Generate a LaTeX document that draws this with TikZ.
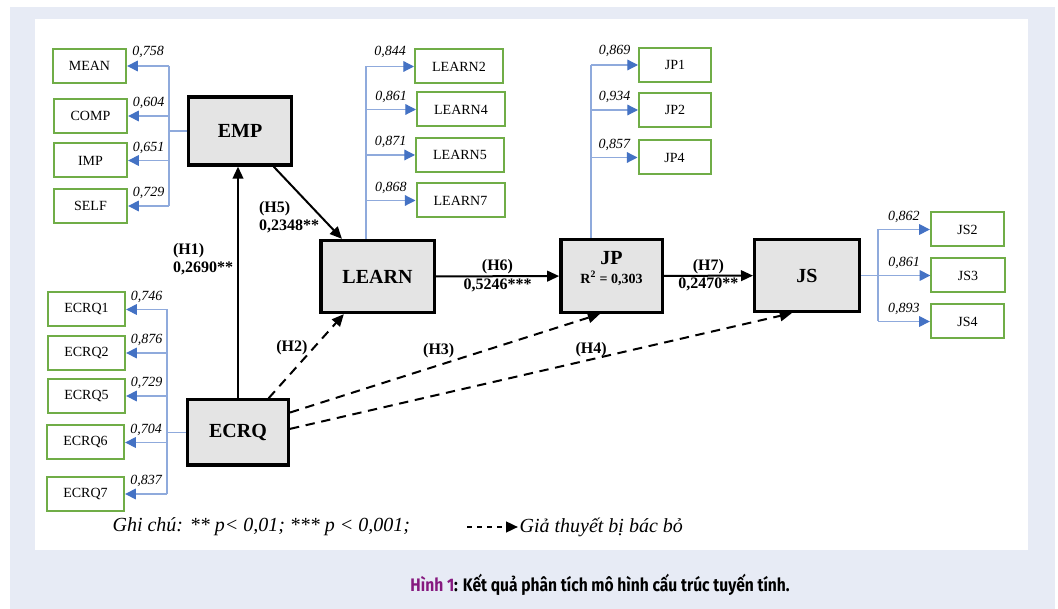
\documentclass[tikz,border=0pt]{standalone}
\usepackage{fontspec}
\setmainfont{Liberation Serif}
\newfontfamily\capfont[FakeStretch=0.86]{Fira Sans}
\usepackage{tikz}
\usetikzlibrary{calc}
\usetikzlibrary{positioning}
\usetikzlibrary{arrows.meta}

\definecolor{panel}{HTML}{E7EBF5}
\definecolor{latgray}{HTML}{E4E4E4}
\definecolor{itemgreen}{HTML}{70AD47}
\definecolor{bluel}{HTML}{8FAADC}
\definecolor{blued}{HTML}{4472C4}
\definecolor{capurple}{HTML}{86197F}

\begin{document}
\begin{tikzpicture}[x=0.75pt, y=-0.75pt,
	latent/.style={draw, line width=2.5pt, fill=latgray, inner sep=1pt, font=\fontsize{15}{17}\selectfont\bfseries},
	item/.style={draw=itemgreen, line width=1.5pt, minimum height=25.5pt, inner sep=0pt, font=\fontsize{10.5}{12}\selectfont},
	trunk/.style={draw=bluel, line width=0.9pt},
	load/.style={trunk, -{Triangle[length=8pt,width=8pt,color=blued]}},
	lab/.style={font=\fontsize{10.5}{12}\selectfont\itshape, inner sep=1pt},
	hyp/.style={line width=1.5pt, -{Triangle[length=9pt,width=8pt]}},
	rej/.style={hyp, dash pattern=on 7pt off 5pt},
	coef/.style={font=\fontsize{12}{14}\selectfont\bfseries, inner sep=1pt, align=left},
	notefont/.style={font=\fontsize{15}{17}\selectfont\itshape}]
				
				% page and panel
				\useasboundingbox (0,0) rectangle (1058,609);
				\fill[panel] (10,7) rectangle (1055,609);
				\fill[white] (35,19) rectangle (1028,550);
				
				\node[latent, minimum width=77pt, minimum height=51pt] (EMP) at (240,131) {EMP};
				\node[latent, minimum width=85pt, minimum height=54pt] (LEARN) at (377.5,276.5) {LEARN};
				\node[latent, minimum width=76pt, minimum height=54.5pt, align=center] (JP) at (611.5,276) {JP\\[-3pt] {\fontsize{10.5}{12}\selectfont R\textsuperscript{2} = 0,303}\\[-4pt]\mbox{}};
				\node[latent, minimum width=78.5pt, minimum height=54pt] (JS) at (807,275.5) {JS};
				\node[latent, minimum width=75.5pt, minimum height=49pt] (ECRQ) at (238,432.5) {ECRQ};
				
				\node[item, minimum width=55pt] (MEAN) at (89.5,66) {MEAN};
				\node[item, minimum width=55pt] (COMP) at (90.5,116) {COMP};
				\node[item, minimum width=55pt] (IMP) at (90.5,160.5) {IMP};
				\node[item, minimum width=55pt] (SELF) at (90.5,206) {SELF};
				
				\node[item, minimum width=66pt] (LEARN2) at (459,66.5) {LEARN2};
				\node[item, minimum width=66pt] (LEARN4) at (461,109.5) {LEARN4};
				\node[item, minimum width=66pt] (LEARN5) at (460,155) {LEARN5};
				\node[item, minimum width=66pt] (LEARN7) at (460.5,200.5) {LEARN7};
				
				\node[item, minimum width=54pt] (JP1) at (675,65) {JP1};
				\node[item, minimum width=54pt] (JP2) at (675,110) {JP2};
				\node[item, minimum width=54pt] (JP4) at (674.5,157.5) {JP4};
				
				\node[item, minimum width=55pt] (JS2) at (967.5,229.5) {JS2};
				\node[item, minimum width=55pt] (JS3) at (968,275.5) {JS3};
				\node[item, minimum width=55pt] (JS4) at (967.5,321.5) {JS4};
				
				\node[item, minimum width=58pt] (ECRQ1) at (86.5,309.5) {ECRQ1};
				\node[item, minimum width=58pt] (ECRQ2) at (86.5,353) {ECRQ2};
				\node[item, minimum width=58pt] (ECRQ5) at (86.5,396) {ECRQ5};
				\node[item, minimum width=58pt] (ECRQ6) at (85.5,442.5) {ECRQ6};
				\node[item, minimum width=58pt] (ECRQ7) at (85.5,494) {ECRQ7};
				
				\coordinate (tE) at (169,0);
				\coordinate (tL) at (366,0);
				\coordinate (tP) at (591,0);
				\coordinate (tS) at (878,0);
				\coordinate (tC) at (167,0);
				
				% measurement part
				\draw[trunk] (EMP.west) -- (EMP.west -| tE);
				\draw[trunk] (tE |- MEAN) -- (tE |- SELF);
				\draw[load] (tE |- MEAN) -- (MEAN.east) node[midway,above=5pt,lab] {0,758};
				\draw[load] (tE |- COMP) -- (COMP.east) node[midway,above=4pt,lab] {0,604};
				\draw[load] (tE |- IMP) -- (IMP.east) node[midway,above=4pt,lab] {0,651};
				\draw[load] (tE |- SELF) -- (SELF.east) node[midway,above=4pt,lab] {0,729};
				
				\draw[trunk] (tL |- LEARN.north) -- (tL |- LEARN2);
				\draw[load] (tL |- LEARN2) -- (LEARN2.west) node[midway,above=5pt,lab] {0,844};
				\draw[load] (tL |- LEARN4) -- (LEARN4.west) node[midway,above=4pt,lab] {0,861};
				\draw[load] (tL |- LEARN5) -- (LEARN5.west) node[midway,above=4pt,lab] {0,871};
				\draw[load] (tL |- LEARN7) -- (LEARN7.west) node[midway,above=4pt,lab] {0,868};
				
				\draw[trunk] (tP |- JP.north) -- (tP |- JP1);
				\draw[load] (tP |- JP1) -- (JP1.west) node[midway,above=5pt,lab] {0,869};
				\draw[load] (tP |- JP2) -- (JP2.west) node[midway,above=4pt,lab] {0,934};
				\draw[load] (tP |- JP4) -- (JP4.west) node[midway,above=4pt,lab] {0,857};
				
				\draw[trunk] (JS.east) -- (tS |- JS3);
				\draw[trunk] (tS |- JS2) -- (tS |- JS4);
				\draw[load] (tS |- JS2) -- (JS2.west) node[midway,above=4pt,lab] {0,862};
				\draw[load] (tS |- JS3) -- (JS3.west) node[midway,above=4pt,lab] {0,861};
				\draw[load] (tS |- JS4) -- (JS4.west) node[midway,above=4pt,lab] {0,893};
				
				\draw[trunk] (ECRQ.west) -- (ECRQ.west -| tC);
				\draw[trunk] (tC |- ECRQ1) -- (tC |- ECRQ7);
				\draw[load] (tC |- ECRQ1) -- (ECRQ1.east) node[midway,above=4pt,lab] {0,746};
				\draw[load] (tC |- ECRQ2) -- (ECRQ2.east) node[midway,above=4pt,lab] {0,876};
				\draw[load] (tC |- ECRQ5) -- (ECRQ5.east) node[midway,above=4pt,lab] {0,729};
				\draw[load] (tC |- ECRQ6) -- (ECRQ6.east) node[midway,above=4pt,lab] {0,704};
				\draw[load] (tC |- ECRQ7) -- (ECRQ7.east) node[midway,above=4pt,lab] {0,837};
				
				% structural part
				\draw[hyp] (ECRQ.north) -- (ECRQ.north |- EMP.south) node[pos=0.6,left=2pt,coef] {(H1)\\0,2690**};
				\draw[hyp] (EMP) -- (LEARN) node[pos=0.7,anchor=east,coef] {(H5)\\0,2348**};
				\draw[hyp] (LEARN) -- (JP) node[midway,above,coef] {(H6)} node[midway,below,coef] {0,5246***};
				\draw[hyp] (JP) -- (JS) node[midway,above,coef] {(H7)} node[midway,below,coef] {0,2470**};
				
				\draw[rej] (ECRQ) -- (LEARN) node[pos=0.6,left=3pt,coef] {(H2)};
				\draw[rej] (ECRQ.21) -- (JP.253) node[pos=0.48,above=4pt,coef] {(H3)};
				\draw[rej] (ECRQ.4) -- (JS.248) node[pos=0.6,above=0pt,coef] {(H4)};
				
				% note and caption
				\node[anchor=west, inner sep=1pt, notefont] (note) at (111,527) {Ghi chú: ** p< 0,01; *** p < 0,001;};
				\coordinate (lgA) at (467,527);
				\node[anchor=west, inner sep=1pt, notefont] (lgT) at (518,527) {Giả thuyết bị bác bỏ};
				\draw[rej, line width=1.8pt, dash pattern=on 4pt off 3.5pt] (lgA) -- (lgT.west);
				
				\node[font=\capfont\bfseries\fontsize{13.6}{15}\selectfont] (cap) at (600,585) {\textcolor{capurple}{Hình 1}: Kết quả phân tích mô hình cấu trúc tuyến tính.};
			\end{tikzpicture}
\end{document}
